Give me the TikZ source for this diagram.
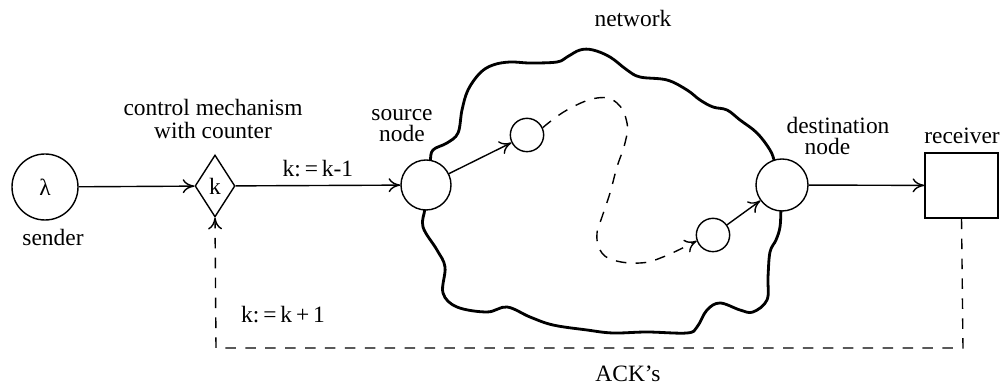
\documentclass[tikz,border=0pt]{standalone}
\usepackage{fontspec}
\setmainfont{Liberation Serif}
\usetikzlibrary{shapes.geometric,arrows.meta}
\tikzset{
  >={To[length=5pt,width=6pt]},
  station/.style={draw, circle, fill=white, inner sep=0pt},
  hopnode/.style={draw, circle, fill=white, inner sep=0pt, minimum size=0.5cm},
  acksline/.style={dash pattern=on 4.5pt off 4pt},
}
\begin{document}
\begin{tikzpicture}[x=0.015cm,y=-0.015cm,line width=0.6pt]
\useasboundingbox (0,0) rectangle (1006,385);
% network cloud
\draw[line width=1.2pt] plot[smooth cycle, tension=0.6] coordinates {
  (426,185) (430,162) (433,150) (447,143) (458,133) (462,110) (468,90) (480,73)
  (493,65) (510,62) (530,63) (557,62) (567,57) (580,50) (593,50) (610,57)
  (627,70) (640,77) (667,80) (687,90) (700,100) (713,107) (727,110) (740,120)
  (757,133) (770,150) (775,163) (782,185) (781,208) (780,227) (776,240)
  (770,252) (768,277) (767,300) (753,312) (740,310) (720,303) (707,310)
  (697,327) (687,333) (647,332) (613,333) (587,330) (553,325) (530,317)
  (507,307) (487,312) (457,307) (443,293) (445,267) (437,250) (423,227) (425,208)};
\node at (633,18) (nettxt) {network};
% stations
\node[station, minimum size=0.99cm] (sender) at (45,187) {λ};
\node at (53,237) (sendtxt) {sender};
\node[draw, diamond, inner sep=0pt, minimum width=0.6cm, minimum height=0.93cm] (ctrl) at (215,186) {k};
\node[align=center] at (213,119) (ctrltxt) {control mechanism\\[-2pt]with counter};
\node[station, minimum size=0.75cm] (src) at (426,185) {};
\node[align=center] at (402,126) (srctxt) {source\\[-3pt]node};
\node[hopnode] (hop1) at (527,135) {};
\node[hopnode] (hop2) at (713,235) {};
\node[station, minimum size=0.78cm] (dst) at (782,185) {};
\node[align=center] at (838,136) (dsttxt) {destination\\[-3pt]node\hspace*{0.9em}};
\node[draw, minimum width=1.095cm, minimum height=0.975cm] (recv) at (961.5,185.5) {};
\node at (962,136) (recvtxt) {receiver};
% data path
\draw[->] (sender) -- (ctrl);
\draw[->] (ctrl) -- node[above] {k:\,=\,k-1} (src);
\draw[->] (src) -- (hop1);
\draw[->, acksline] plot[smooth, tension=0.7] coordinates {
  (hop1.25) (567,110) (597,98) (617,103) (627,123) (625,143) (617,167)
  (610,193) (602,217) (597,233) (600,250) (613,260) (640,263) (663,257) (hop2.200)};
\draw[->] (hop2) -- (dst);
\draw[->] (dst) -- (recv);
% acknowledgements back to the counter
\coordinate (ackR) at (963,348);
\coordinate (ackL) at (216,348);
\draw[->, acksline] (recv.south) -- (ackR) -- (ackL) -- (ctrl.south);
\node at (283,315) (inctxt) {k:\,=\,k\,+\,1};
\node at (628,374) (acktxt) {ACK's};
\end{tikzpicture}
\end{document}
